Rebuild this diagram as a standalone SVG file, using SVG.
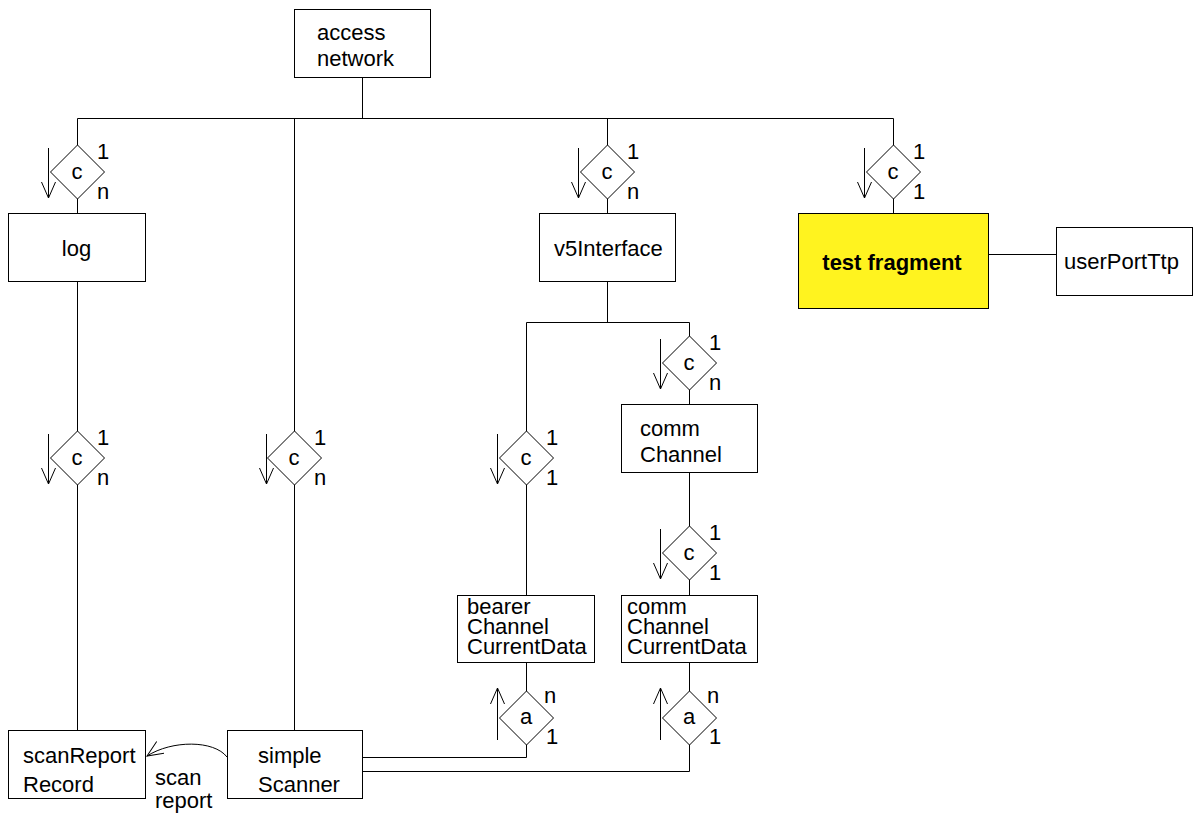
<svg xmlns="http://www.w3.org/2000/svg" width="1195" height="814" viewBox="0 0 1195 814">
<defs>
<style>
.box{fill:#fff;stroke:#000;stroke-width:1}
.hl{fill:#fff31f;stroke:#000;stroke-width:1}
.ln{fill:none;stroke:#000;stroke-width:1}
.dm{fill:#fff;stroke:#000;stroke-width:1}
text{font-family:"Liberation Sans",Arial,Helvetica,sans-serif;font-size:22px;fill:#000}
.b{font-weight:bold}
.m{text-anchor:middle}
</style>
<marker id="open" viewBox="0 0 20 20" refX="16" refY="7" markerWidth="20" markerHeight="20" markerUnits="userSpaceOnUse" orient="auto">
<path d="M0,0 L16,7 L0,14" fill="none" stroke="#000" stroke-width="1"/>
</marker>
</defs>
<rect width="1195" height="814" fill="#fff"/>

<g id="connectors">
<path class="ln" d="M362.5,78 V118.5"/>
<path class="ln" d="M77.5,118.5 H893.5"/>
<path class="ln" d="M77.5,118.5 V145 M77.5,199 V213"/>
<path class="ln" d="M607.5,118.5 V145 M607.5,199 V213"/>
<path class="ln" d="M893.5,118.5 V145 M893.5,199 V213"/>
<path class="ln" d="M294.5,118.5 V431 M294.5,485 V730"/>
<path class="ln" d="M77.5,281 V431 M77.5,485 V730"/>
<path class="ln" d="M607.5,282 V322.5 M526.5,322.5 H689.5 M689.5,322.5 V336 M689.5,390 V404"/>
<path class="ln" d="M526.5,322.5 V431 M526.5,485 V595"/>
<path class="ln" d="M689.5,472 V526 M689.5,580 V595"/>
<path class="ln" d="M526.5,662 V691 M689.5,662 V691"/>
<path class="ln" d="M362,757.5 H526.5 V745"/>
<path class="ln" d="M362,771.5 H689.5 V745"/>
<path class="ln" d="M988,254.5 H1056"/>
<path class="ln" d="M227,757 C214,740 172,740 147,756" marker-end="url(#open)"/>
<text x="155" y="785">scan</text>
<text x="155" y="808">report</text>
</g>

<g id="access-network">
<rect class="box" x="294.5" y="9.5" width="136" height="68"/>
<text x="317" y="40">access</text>
<text x="317" y="66">network</text>
</g>

<g id="log">
<rect class="box" x="8.5" y="213.5" width="137" height="68"/>
<text class="m" x="76.5" y="256">log</text>
</g>

<g id="v5Interface">
<rect class="box" x="539.5" y="213.5" width="136" height="68"/>
<text x="554" y="256">v5Interface</text>
</g>

<g id="test-fragment">
<rect class="hl" x="798.5" y="213.5" width="190" height="95"/>
<text class="m b" x="892" y="270">test fragment</text>
</g>

<g id="userPortTtp">
<rect class="box" x="1056.5" y="227.5" width="136" height="68"/>
<text x="1064" y="269">userPortTtp</text>
</g>

<g id="commChannel">
<rect class="box" x="621.5" y="404.5" width="136" height="68"/>
<text x="640" y="436">comm</text>
<text x="640" y="462">Channel</text>
</g>

<g id="bearerChannelCurrentData">
<rect class="box" x="457.5" y="595.5" width="137" height="67"/>
<text x="467" y="614">bearer</text>
<text x="467" y="634">Channel</text>
<text x="467" y="654">CurrentData</text>
</g>

<g id="commChannelCurrentData">
<rect class="box" x="621.5" y="595.5" width="136" height="67"/>
<text x="627" y="614">comm</text>
<text x="627" y="634">Channel</text>
<text x="627" y="654">CurrentData</text>
</g>

<g id="scanReportRecord">
<rect class="box" x="8.5" y="730.5" width="137" height="68"/>
<text x="23" y="763">scanReport</text>
<text x="23" y="792">Record</text>
</g>

<g id="simpleScanner">
<rect class="box" x="227.5" y="730.5" width="135" height="68"/>
<text x="258" y="763">simple</text>
<text x="258" y="792">Scanner</text>
</g>

<!-- containment diamonds -->
<g id="c-log">
<polygon class="dm" points="77.5,145 104.5,172 77.5,199 50.5,172"/>
<text class="m" x="77" y="179">c</text>
<text x="97" y="159">1</text><text x="97" y="199">n</text>
<path class="ln" d="M48.5,148 V198 M41.5,182 L48.5,198 L55.5,182"/>
</g>
<g id="c-v5">
<polygon class="dm" points="607.5,145 634.5,172 607.5,199 580.5,172"/>
<text class="m" x="607" y="179">c</text>
<text x="627" y="159">1</text><text x="627" y="199">n</text>
<path class="ln" d="M578.5,148 V198 M571.5,182 L578.5,198 L585.5,182"/>
</g>
<g id="c-test">
<polygon class="dm" points="893.5,145 920.5,172 893.5,199 866.5,172"/>
<text class="m" x="893" y="179">c</text>
<text x="913" y="159">1</text><text x="913" y="199">1</text>
<path class="ln" d="M864.5,148 V198 M857.5,182 L864.5,198 L871.5,182"/>
</g>
<g id="c-comm">
<polygon class="dm" points="689.5,336 716.5,363 689.5,390 662.5,363"/>
<text class="m" x="689" y="370">c</text>
<text x="709" y="350">1</text><text x="709" y="390">n</text>
<path class="ln" d="M660.5,339 V389 M653.5,373 L660.5,389 L667.5,373"/>
</g>
<g id="c-scanReport">
<polygon class="dm" points="77.5,431 104.5,458 77.5,485 50.5,458"/>
<text class="m" x="77" y="465">c</text>
<text x="97" y="445">1</text><text x="97" y="485">n</text>
<path class="ln" d="M48.5,434 V484 M41.5,468 L48.5,484 L55.5,468"/>
</g>
<g id="c-simpleScanner">
<polygon class="dm" points="294.5,431 321.5,458 294.5,485 267.5,458"/>
<text class="m" x="294" y="465">c</text>
<text x="314" y="445">1</text><text x="314" y="485">n</text>
<path class="ln" d="M266.5,434 V484 M259.5,468 L266.5,484 L273.5,468"/>
</g>
<g id="c-bearer">
<polygon class="dm" points="526.5,431 553.5,458 526.5,485 499.5,458"/>
<text class="m" x="526" y="465">c</text>
<text x="546" y="445">1</text><text x="546" y="485">1</text>
<path class="ln" d="M497.5,434 V484 M490.5,468 L497.5,484 L504.5,468"/>
</g>
<g id="c-commData">
<polygon class="dm" points="689.5,526 716.5,553 689.5,580 662.5,553"/>
<text class="m" x="689" y="560">c</text>
<text x="709" y="540">1</text><text x="709" y="580">1</text>
<path class="ln" d="M660.5,529 V579 M653.5,563 L660.5,579 L667.5,563"/>
</g>

<!-- association diamonds -->
<g id="a-bearer">
<polygon class="dm" points="526.5,691 553.5,718 526.5,745 499.5,718"/>
<text class="m" x="526" y="724">a</text>
<text x="544" y="703">n</text><text x="546" y="744">1</text>
<path class="ln" d="M497.5,740 V688 M490.5,704 L497.5,688 L504.5,704"/>
</g>
<g id="a-commData">
<polygon class="dm" points="689.5,691 716.5,718 689.5,745 662.5,718"/>
<text class="m" x="689" y="724">a</text>
<text x="707" y="703">n</text><text x="709" y="744">1</text>
<path class="ln" d="M660.5,740 V688 M653.5,704 L660.5,688 L667.5,704"/>
</g>
</svg>
